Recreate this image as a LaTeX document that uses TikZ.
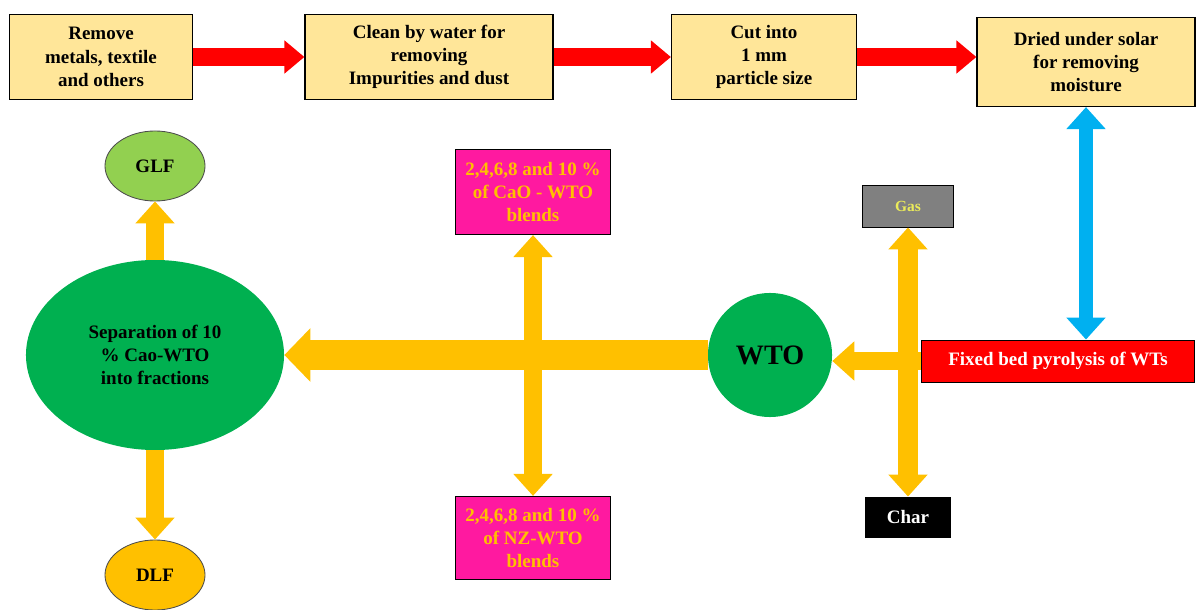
\documentclass[tikz,border=0pt]{standalone}
\usepackage{fontspec}
\setmainfont{Liberation Serif}
\usetikzlibrary{arrows.meta,shapes.geometric}
\definecolor{boxyellow}{RGB}{255,230,153}
\definecolor{arrowred}{RGB}{255,0,0}
\definecolor{arrowblue}{RGB}{0,176,240}
\definecolor{amber}{RGB}{255,192,0}
\definecolor{blendpink}{RGB}{255,25,160}
\definecolor{wtogreen}{RGB}{0,176,80}
\definecolor{glfgreen}{RGB}{146,208,80}
\definecolor{gasgray}{RGB}{128,128,128}
\definecolor{gastext}{RGB}{235,235,90}

\begin{document}
\begin{tikzpicture}[
        x=0.025cm, y=-0.025cm,
        every node/.style={font=\fontsize{13.5}{16.5}\selectfont\bfseries, align=center, inner sep=1pt},
        stepbox/.style={draw, line width=0.8pt, fill=boxyellow, minimum height=2.125cm},
        blend/.style={draw, line width=0.8pt, fill=blendpink, text=amber, minimum width=3.875cm, minimum height=2.125cm},
        product/.style={draw, line width=0.6pt, minimum height=1.05cm},
        fraction/.style={ellipse, draw=black!70, line width=0.6pt, minimum width=2.5cm, minimum height=1.75cm},
        redarrow/.style={-{Triangle[width=0.8cm, length=0.5cm]}, line width=0.45cm, draw=arrowred},
        yellowarrow/.style={-{Triangle[width=0.95cm, length=0.55cm]}, line width=0.45cm, draw=amber},
        twoway/.style={{Triangle[width=0.95cm, length=0.55cm]}-{Triangle[width=0.95cm, length=0.55cm]}, line width=0.45cm}
    ]
        \useasboundingbox (0,0) rectangle (1197,610);

        % Pretreatment steps
        \node[stepbox, minimum width=4.575cm] (remove) at (101,57) {Remove\\metals, textile\\and others};
        \node[stepbox, minimum width=6.2cm] (clean) at (429,57) {Clean by water for\\removing\\Impurities and dust};
        \node[stepbox, minimum width=4.625cm] (cut) at (764,57) {Cut into\\1 mm\\particle size};
        \node[stepbox, minimum width=5.45cm, minimum height=2.225cm] (dried) at (1086,62) {Dried under solar\\for removing\\moisture};

        % Pyrolysis
        \node[product, fill=arrowred, text=white, minimum width=6.825cm] (fixed) at (1058,361) {Fixed bed pyrolysis of WTs};
        \node[product, fill=gasgray, text=gastext, minimum width=2.275cm, font=\fontsize{11}{13}\selectfont\bfseries] (gas) at (908,206) {Gas};
        \node[product, fill=black, text=white, minimum width=2.125cm, minimum height=1.0cm] (char) at (908,517) {Char};

        % Oil
        \node[circle, fill=wtogreen, minimum size=3.1cm, font=\fontsize{20}{24}\selectfont\bfseries] (wto) at (770,355) {WTO};

        % Blends
        \node[blend] (cao) at (533,192) {2,4,6,8 and 10 \%\\of CaO - WTO\\blends};
        \node[blend, minimum height=2.075cm] (nz) at (533,538) {2,4,6,8 and 10 \%\\of NZ-WTO\\blends};

        % Separation
        \node[ellipse, fill=wtogreen, minimum width=6.45cm, minimum height=4.75cm] (sep) at (155,355) {Separation of 10\\\% Cao-WTO\\into fractions};
        \node[fraction, fill=glfgreen] (glf) at (155,166) {GLF};
        \node[fraction, fill=amber] (dlf) at (155,575) {DLF};

        % Arrows
        \draw[redarrow] (remove) -- (clean);
        \draw[redarrow] (clean) -- (cut);
        \draw[redarrow] (cut.east) -- (cut.east -| dried.west);
        \draw[twoway, draw=arrowblue, line width=0.33cm] (dried.south) -- (dried.south |- fixed.north);
        \draw[yellowarrow] (fixed.west) -- (wto.east |- fixed.west);
        \draw[twoway, draw=amber, line width=0.5cm] (gas.south) -- (char.north);
        \draw[yellowarrow, line width=0.75cm, -{Triangle[width=1.3cm, length=0.65cm]}] (wto.west) -- (sep.east);
        \draw[twoway, draw=amber] (cao.south) -- (nz.north);
        \draw[yellowarrow] (sep.north) -- (glf.south);
        \draw[yellowarrow] (sep.south) -- (dlf.north);

    \end{tikzpicture}
\end{document}
